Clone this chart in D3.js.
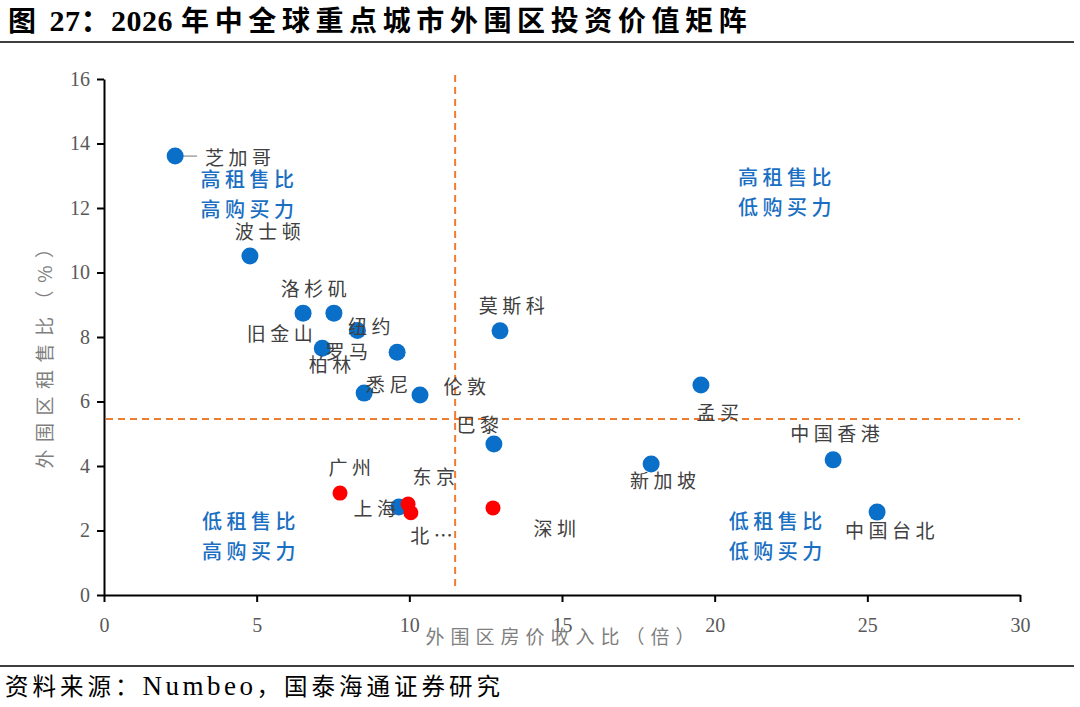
<!DOCTYPE html>
<html>
<head>
<meta charset="utf-8">
<script src="https://cdn.jsdelivr.net/npm/d3@7"></script>
<style>
  body { margin: 0; background: #fff; }
  svg { display: block; }
</style>
</head>
<body>
<svg id="chart"></svg>
<script>
"use strict"

const WIDTH = 1080;
const HEIGHT = 707;
const PLOT = { left: 104, right: 1020, top: 79, bottom: 595 };
const SERIF = "'Liberation Serif', 'Noto Sans CJK SC', serif";
const CJK = "'Noto Sans CJK SC', sans-serif";

// data
const CITIES = ["芝加哥", "波士顿", "旧金山", "洛杉矶", "纽约", "罗马", "柏林", "悉尼", "伦敦",
                "莫斯科", "巴黎", "孟买", "新加坡", "中国香港", "中国台北", "东京",
                "广州", "上海", "北…", "深圳"];
const PRICE_INCOME = [2.33, 4.78, 6.52, 7.53, 8.3, 9.6, 7.15, 8.52, 10.35,
                      12.97, 12.77, 19.55, 17.92, 23.88, 25.32, 9.66,
                      7.73, 9.96, 10.05, 12.74];
const RENT_YIELD = [13.61, 10.51, 8.74, 8.74, 8.2, 7.53, 7.65, 6.26, 6.2,
                    8.19, 4.68, 6.51, 4.06, 4.19, 2.57, 2.73,
                    3.16, 2.82, 2.55, 2.7];
const MAINLAND = [false, false, false, false, false, false, false, false, false,
                  false, false, false, false, false, false, false,
                  true, true, true, true];
const X_TICKS = [0, 5, 10, 15, 20, 25, 30];
const Y_TICKS = [0, 2, 4, 6, 8, 10, 12, 14, 16];
const X_SPLIT = 11.5;
const Y_SPLIT = 5.46;
const QUADRANTS = [
    { lines: ["高租售比", "高购买力"], x: 4.7, y: 12.65 },
    { lines: ["高租售比", "低购买力"], x: 22.3, y: 12.7 },
    { lines: ["低租售比", "高购买力"], x: 4.75, y: 2.05 },
    { lines: ["低租售比", "低购买力"], x: 22.0, y: 2.05 }
];
// title / source pieces: [text, is latin]
const TITLE = [["图", false], [" 27：2026 ", true], ["年中全球重点城市外围区投资价值矩阵", false]];
const SOURCE = [["资料来源：", false], ["Numbeo", true], ["，国泰海通证券研究", false]];

// label offsets (pixels from dot centre), styling only
const LABEL_OFFSET = [[63, 0], [18, -26], [-23, 19], [-20, -26], [12, -5], [-50, -2], [8, 15], [23, -10], [45, -10],
                      [12, -26], [-16, -21], [17, 26], [12, 15], [2, -27], [13, 17], [35, -31],
                      [10, -27], [-33, 3], [21, 22], [62, 20]];

const svg = d3.select("#chart").attr("width", WIDTH).attr("height", HEIGHT);

const x = d3.scaleLinear([0, 30], [PLOT.left, PLOT.right]);
const y = d3.scaleLinear([0, 16], [PLOT.bottom, PLOT.top]);

// title and footer
const title = svg.append("text")
    .attr("x", 8).attr("y", 31)
    .attr("font-family", SERIF).attr("font-weight", "bold").attr("fill", "#000");
TITLE.forEach(([s, latin]) => {
    title.append("tspan")
        .attr("font-size", latin ? 30 : 28)
        .attr("letter-spacing", latin ? 0.5 : 5.6)
        .text(s);
});
svg.append("line").attr("x1", 0).attr("x2", 1074).attr("y1", 42).attr("y2", 42)
    .attr("stroke", "#000").attr("stroke-width", 1.5);
svg.append("line").attr("x1", 0).attr("x2", 1074).attr("y1", 666).attr("y2", 666)
    .attr("stroke", "#000").attr("stroke-width", 1.5);
const source = svg.append("text")
    .attr("x", 5).attr("y", 695)
    .attr("font-family", SERIF).attr("fill", "#000");
SOURCE.forEach(([s, latin]) => {
    source.append("tspan")
        .attr("font-size", latin ? 27 : 23.5)
        .attr("letter-spacing", latin ? 3.5 : 4)
        .text(s);
});

// axes
const xAxis = svg.append("g")
    .attr("transform", `translate(0,${PLOT.bottom})`)
    .call(d3.axisBottom(x).tickValues(X_TICKS).tickSize(7).tickSizeOuter(0));
const yAxis = svg.append("g")
    .attr("transform", `translate(${PLOT.left},0)`)
    .call(d3.axisLeft(y).tickValues(Y_TICKS).tickSize(7).tickSizeOuter(0));
[xAxis, yAxis].forEach(g => {
    g.select(".domain").attr("stroke", "#000").attr("stroke-width", 2);
    g.selectAll(".tick line").attr("stroke", "#000").attr("stroke-width", 2);
    g.selectAll(".tick text").attr("font-family", SERIF).attr("font-size", 20).attr("fill", "#595959");
});
xAxis.selectAll(".tick text").attr("dy", "1.35em");
yAxis.selectAll(".tick text").attr("dx", "-0.2em");

// axis titles
svg.append("text")
    .attr("x", 563).attr("y", 644)
    .attr("text-anchor", "middle")
    .attr("font-family", CJK).attr("font-size", 19).attr("letter-spacing", 6).attr("fill", "#7f7f7f")
    .text("外围区房价收入比（倍）");
svg.append("text")
    .attr("transform", `translate(52,350) rotate(-90)`)
    .attr("text-anchor", "middle")
    .attr("font-family", CJK).attr("font-size", 19).attr("letter-spacing", 7.5).attr("fill", "#7f7f7f")
    .text("外围区租售比（%）");

// split lines
svg.append("line")
    .attr("x1", x(X_SPLIT)).attr("x2", x(X_SPLIT))
    .attr("y1", 75).attr("y2", PLOT.bottom - 4)
    .attr("stroke", "#ED7D31").attr("stroke-width", 2).attr("stroke-dasharray", "7,5");
svg.append("line")
    .attr("x1", PLOT.left + 2).attr("x2", PLOT.right)
    .attr("y1", y(Y_SPLIT)).attr("y2", y(Y_SPLIT))
    .attr("stroke", "#ED7D31").attr("stroke-width", 2).attr("stroke-dasharray", "7,5");

// quadrant notes
QUADRANTS.forEach(q => {
    const t = svg.append("text")
        .attr("text-anchor", "middle")
        .attr("font-family", CJK).attr("font-size", 20).attr("font-weight", 500)
        .attr("letter-spacing", 4.5)
        .attr("fill", "#1A6FC2");
    q.lines.forEach((s, i) => {
        t.append("tspan").attr("x", x(q.x) + 2).attr("y", y(q.y) + i * 30).text(s);
    });
});

// leader line for Chicago
svg.append("line")
    .attr("x1", x(PRICE_INCOME[0]) + 6).attr("x2", x(PRICE_INCOME[0]) + 22)
    .attr("y1", y(RENT_YIELD[0])).attr("y2", y(RENT_YIELD[0]))
    .attr("stroke", "#8c8c8c").attr("stroke-width", 1.2);

// points: blue first, red on top
const idx = d3.range(CITIES.length).sort((a, b) => MAINLAND[a] - MAINLAND[b]);
svg.append("g").selectAll("circle")
    .data(idx)
    .join("circle")
    .attr("cx", i => x(PRICE_INCOME[i]))
    .attr("cy", i => y(RENT_YIELD[i]))
    .attr("r", i => MAINLAND[i] ? 7.5 : 8.5)
    .attr("fill", i => MAINLAND[i] ? "#FF0000" : "#0A6FC8");

// city labels
svg.append("g").selectAll("text")
    .data(d3.range(CITIES.length))
    .join("text")
    .attr("x", i => x(PRICE_INCOME[i]) + LABEL_OFFSET[i][0] + 2)
    .attr("y", i => y(RENT_YIELD[i]) + LABEL_OFFSET[i][1])
    .attr("text-anchor", "middle")
    .attr("dominant-baseline", "central")
    .attr("font-family", CJK).attr("font-size", 19).attr("letter-spacing", 4.5).attr("fill", "#404040")
    .text(i => CITIES[i]);
</script>
</body>
</html>
